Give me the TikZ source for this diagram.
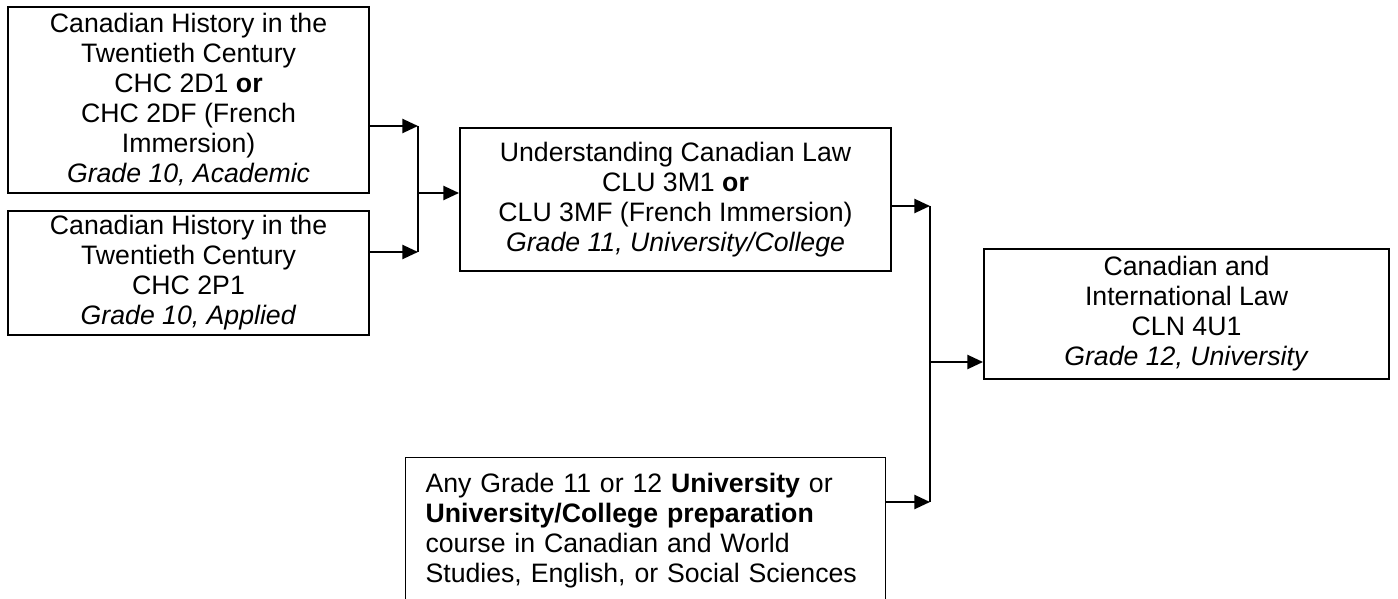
\documentclass[tikz,border=0pt]{standalone}
\usepackage{fontspec}
\setmainfont{Liberation Sans}
\usetikzlibrary{positioning, arrows.meta}

\tikzset{
    course/.style={draw, line width=0.9pt, align=center, inner xsep=4pt, inner ysep=2pt},
    anycourse/.style={draw, line width=0.5pt, align=left, text width=198pt, inner xsep=9pt, inner ysep=7.2pt},
}

\begin{document}
\begin{tikzpicture}[x=0.45pt, y=-0.45pt, >={Triangle[length=7pt, width=6.3pt]}, line width=0.9pt, font=\fontsize{12}{13.5}\selectfont]

\useasboundingbox (0,0) rectangle (1398,599);
\clip (0,0) rectangle (1398,599);

% grade 10
\node[course, minimum width=162.5pt, minimum height=83.7pt, anchor=north west] (chc-acad) at (7,6) {Canadian History in the\\ Twentieth Century\\ CHC 2D1 \textbf{or}\\ CHC 2DF (French\\ Immersion)\\ \textit{Grade 10, Academic}};
\node[course, minimum width=162.5pt, minimum height=55.8pt, below=7.2pt of chc-acad.south west, anchor=north west] (chc-appl) {Canadian History in the\\ Twentieth Century\\ CHC 2P1\\ \textit{Grade 10, Applied}};

% grade 11
\node[course, minimum width=194pt, minimum height=64.4pt, anchor=north west] (clu) at (459,127) {Understanding Canadian Law\\ CLU 3M1 \textbf{or}\\ CLU 3MF (French Immersion)\\ \textit{Grade 11, University/College}};
\node[anycourse, anchor=north west] (any) at (405,457) {Any Grade 11 or 12 \textbf{University} or\\ \textbf{University/College preparation}\\ course in Canadian and World\\ Studies, English, or Social Sciences};

% grade 12
\node[course, minimum width=182.3pt, minimum height=58.5pt, anchor=north west] (cln) at (983,248) {Canadian and\\ International Law\\ CLN 4U1\\ \textit{Grade 12, University}};

\coordinate (barL-top) at (418,126);
\coordinate (barL-mid) at (418,193);
\coordinate (barL-bot) at (418,252);
\coordinate (barR-top) at (930,206);
\coordinate (barR-mid) at (930,362);
\coordinate (barR-bot) at (930,502);

\draw[->] (chc-acad.east |- barL-top) -- (barL-top);
\draw[->] (chc-appl.east |- barL-bot) -- (barL-bot);
\draw (barL-top) -- (barL-bot);
\draw[->] (barL-mid) -- (clu.west |- barL-mid);

\draw[->] (clu.east |- barR-top) -- (barR-top);
\draw[->] (any.east |- barR-bot) -- (barR-bot);
\draw (barR-top) -- (barR-bot);
\draw[->] (barR-mid) -- (cln.west |- barR-mid);

\end{tikzpicture}
\end{document}
